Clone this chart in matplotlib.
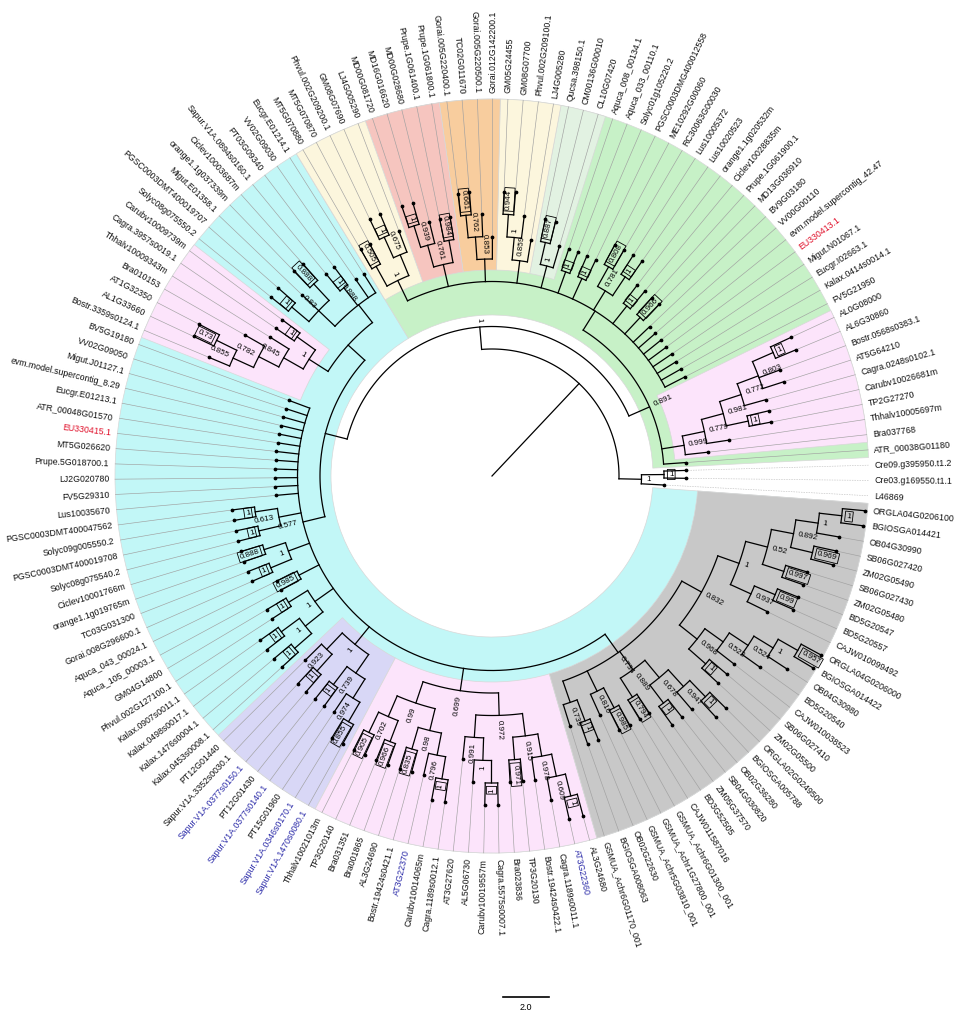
import numpy as np
import matplotlib.pyplot as plt
from matplotlib.patches import Wedge

plt.rcParams['font.family'] = ['Liberation Sans', 'DejaVu Sans']

# tree: (support, [children]); leaves are names; children listed counter-clockwise
outgroup = ("1", ["L46869", ("1", ["Cre03.g169550.t1.1", "Cre09.g395950.t1.2"])])

pink_right = ("0.999", ["Bra037768", ("0.779", ["Thhalv10005697m", ("0.981", [
    ("1", ["TP2G27270", "Carubv10026681m"]),
    ("0.772", ["Cagra.0248s0102.1", ("0.803", ["AT5G64210", "Bostr.0568s0383.1",
                                               ("1", ["AL6G30860", "AL0G08000"])])])])])])

pale = ("1", ["CL10G07420", ("0.887", ["CM00136G00010", "Qucsa.398150.1"])])
cream2 = ("0.859", ["LJ4G005280", ("1", ["Phvul.002G209100.1", ("0.944", ["GM08G07700", "GM05G24455"])])])
orange = ("0.853", ["Gorai.012G142200.1", ("0.762", ["Gorai.005G220500.1",
                                                    ("0.661", ["TC02G011670", "Gorai.005G220400.1"])])])
red = ("0.761", [("0.984", ["Prupe.1G061800.1", "Prupe.1G061400.1"]),
                 ("0.939", ["MD00G028680", ("1", ["MD16G016620", "MD00G081720"])])])
cream1 = ("1", [("0.675", ["LJ4G005290", ("1", ["GM08G07690", "Phvul.002G209200.1"])]),
                ("0.505", ["MT5G070870", "MT5G070880"])])

green_rest = ("", ["FV5G21950", "Kalax.0414s0014.1", "Eucgr.I02663.1", "Migut.N01067.1", "EU330413.1",
                   "evm.model.supercontig_42.47", "VV00G00110", "BV9G03180",
                   ("0.966", ["MD13G036910", "Prupe.1G061900.1"]),
                   ("1", ["Ciclev10028835m", "orange1.1g020532m"]),
                   ("0.781", [("1", ["Lus10020523", "Lus10005372"]), ("0.808", ["RC30063G00030", "ME10292G00060"])]),
                   ("1", ["PGSC0003DMG400012558", "Solyc01g105220.2"]),
                   ("1", ["Aquca_033_00110.1", "Aquca_008_00134.1"]),
                   pale, cream2, orange, red, cream1])
green = ("0.891", ["ATR_00038G01180", pink_right, green_rest])

upper_cyan = ("0.888", ["Eucgr.E01214.1", "VV02G09030", ("1", ["PT03G09340", "Sapur.V1A.0894s0160.1"]),
                        ("0.83", [("0.888", ["Ciclev10003687m", "orange1.1g037339m"]), "Migut.E01358.1",
                                  ("1", ["PGSC0003DMT400019707", "Solyc08g075550.2"])])])
pink_left = ("1", [("1", ["Carubv10009739m", "Cagra.3957s0019.1"]),
                   ("0.845", ["Thhalv10009343m", ("0.782", ["Bra010153", ("0.855", [
                       ("0.73", ["AT1G32350", "AL1G33660"]), "Bostr.3359s0124.1"])])])])

lavender = ("1", [("0.923", ["PT12G01440", ("1", ["Sapur.V1A.3352s0030.1", "Sapur.V1A.0377s0150.1"])]),
                  ("0.739", [("1", ["PT12G01430", "Sapur.V1A.0377s0140.1"]),
                             ("0.974", ["PT15G01960", ("0.855", ["Sapur.V1A.0346s0170.1", "Sapur.V1A.1470s0080.1"])])])])

pink_bottom = ("0.699", [
    ("0.99", [("0.702", [("0.905", ["Thhalv10021013m", "TP3G20140"]), ("0.966", ["Bra031351", "Bra001865"])]),
              ("0.98", [("0.835", ["AL3G24690", "Bostr.19424s0421.1"]),
                        ("0.796", ["AT3G22370", ("1", ["Carubv10014065m", "Cagra.1189s0012.1"])])])]),
    ("0.972", [("0.991", ["AT3G27620", ("1", ["AL5G06730", ("1", ["Carubv10019557m", "Cagra.5575s0007.1"])])]),
               ("0.915", [("0.971", ["Bra023836", "TP3G20130"]),
                          ("0.978", ["Bostr.19424s0422.1", ("0.609", ["Cagra.1189s0011.1",
                                                                      ("1", ["AT3G22360", "AL3G24680"])])])])])])

gray = ("0.734", [
    ("0.739", ["GSMUA_Achr6G01170_001", ("1", ["BGIOSGA008063", "OB02G22630"])]),
    ("0.816", ["GSMUA_Achr5G03810_001", ("0.985", ["GSMUA_Achr1G27800_001", "GSMUA_Achr6G01300_001"])]),
    ("0.889", [("0.794", ["CAJW011587016", "BD3G52505"]),
               ("0.678", [("1", ["ZM05G37570", "SB04G030820"]),
                          ("0.947", ["OB02G36280", ("1", ["BGIOSGA005788", "ORGLA02G0249500"])])])]),
    ("0.832", [
        ("0.968", [("1", ["ZM02G05500", "SB06G027410"]),
                   ("0.522", ["CAJW010038523", ("0.524", ["BD5G20540", ("1", ["OB04G30980",
                                                        ("0.957", ["BGIOSGA014422", "ORGLA04G0206000"])])])])]),
        ("1", [("0.937", ["CAJW010099492", ("0.99", ["BD5G20557", "BD5G20547"])]),
               ("0.52", [("0.997", ["ZM02G05480", "SB06G027430"]),
                         ("0.892", [("0.969", ["ZM02G05490", "SB06G027420"]),
                                    ("1", ["OB04G30990", ("1", ["BGIOSGA014421", "ORGLA04G0206100"])])])])])])])

cyan_rest = ("0.577", ["BV5G19180", "VV02G09050", "Migut.J01127.1", "evm.model.supercontig_8.29",
                       "Eucgr.E01213.1", "ATR_00048G01570", "EU330415.1", "MT5G026620", "Prupe.5G018700.1",
                       "LJ2G020780", "FV5G29310", "Lus10035670",
                       ("0.613", [("1", ["PGSC0003DMT400047562", "Solyc09g005550.2"]),
                                  ("1", ["PGSC0003DMT400019708", "Solyc08g075540.2"])]),
                       ("1", [("0.888", ["Ciclev10001766m", "orange1.1g019765m"]),
                              ("1", ["TC03G031300", "Gorai.008G296600.1"])]),
                       ("0.985", ["Aquca_043_00024.1", "Aquca_105_00003.1"]),
                       ("1", [("1", ["GM04G14800", "Phvul.002G127100.1"]),
                              ("1", [("1", ["Kalax.0907s0011.1", "Kalax.0498s0017.1"]),
                                     ("1", ["Kalax.1476s0004.1", "Kalax.0453s0008.1"])])]),
                       lavender, pink_bottom, gray])
cyan = ("", [("", [upper_cyan, pink_left]), cyan_rest])

ingroup = ("1", [green, cyan])
tree = ("", [outgroup, ingroup])

red_names = ["EU330413.1", "EU330415.1"]
blue_names = ["Sapur.V1A.0377s0150.1", "Sapur.V1A.0377s0140.1", "Sapur.V1A.0346s0170.1",
              "Sapur.V1A.1470s0080.1", "AT3G22370", "AT3G22360"]

regions = [(cyan, "#c2f7f7"), (green, "#c7f1c7"), (pink_right, "#fce4fb"), (pale, "#e2f2e2"),
           (cream2, "#fcf6dd"), (orange, "#f8cd9e"), (red, "#f6c5bf"), (cream1, "#fcf6dd"),
           (pink_left, "#fce4fb"), (lavender, "#d8d7f6"), (pink_bottom, "#fce4fb"), (gray, "#c8c8c8")]

# ---- layout
CX, CY = 492, 1015 - 476
R0, STEP = 127, 22.5
R_OUT, R_LAB = 377, 383
A0 = -3.0


def count(n):
    return 1 if isinstance(n, str) else sum(count(c) for c in n[1])


DA = 360.0 / count(tree)
leaves = []
nodes = {}


def xy(r, a):
    t = np.radians(a)
    return CX + r * np.cos(t), CY + r * np.sin(t)


def layout(n, d):
    if isinstance(n, str):
        a = A0 + len(leaves) * DA
        leaves.append((n, a, d))
        return a, d
    res = [layout(c, d + 1) for c in n[1]]
    a = np.mean([r[0] for r in res])
    nodes[id(n)] = (a, d, res, n)
    return a, d


layout(tree, 0)
leaf_idx = {name: i for i, (name, a, d) in enumerate(leaves)}


def span(n):
    if isinstance(n, str):
        return [leaf_idx[n]]
    return [i for c in n[1] for i in span(c)]


fig = plt.figure(figsize=(9.64, 10.15), dpi=100)
ax = fig.add_axes([0, 0, 1, 1])
ax.set_xlim(0, 964)
ax.set_ylim(0, 1015)
ax.axis("off")

# coloured clade backgrounds
for clade, col in regions:
    idx = span(clade)
    a1 = A0 + min(idx) * DA - DA / 2
    a2 = A0 + max(idx) * DA + DA / 2
    r_in = R0 + nodes[id(clade)][1] * STEP - 11
    ax.add_patch(Wedge((CX, CY), R_OUT, a1, a2, width=R_OUT - r_in, fc=col,
                       ec="#d8d8d8", lw=0.5, zorder=1))


def rot(a):
    a = a % 360
    if 90 < a <= 270:
        return a - 180, "right"
    return (a if a <= 90 else a - 360), "left"


# branches
root_a = nodes[id(tree)][0]
ax.plot(*zip(xy(0, root_a), xy(R0, root_a)), color="k", lw=0.9, zorder=3)
for key, (a, d, res, n) in nodes.items():
    rn = R0 + d * STEP
    angs = [r[0] for r in res]
    t = np.linspace(min(angs), max(angs), 80)
    ax.plot(*xy(rn, t), color="k", lw=0.9, zorder=3)
    for ac, dc in res:
        rc = R0 + dc * STEP
        ax.plot(*zip(xy(rn, ac), xy(rc, ac)), color="k", lw=0.9, zorder=3)
    if n[0]:
        r_, ha = rot(a)
        cherry = all(isinstance(c, str) for c in n[1])
        box = dict(boxstyle="square,pad=0.2", fc="none", ec="k", lw=0.6) if cherry else None
        ax.text(*xy(rn + 5, a), n[0], fontsize=5.8, rotation=r_, ha=ha, va="center",
                rotation_mode="anchor", bbox=box, zorder=4)

# leaf tips, connectors and names
for name, a, d in leaves:
    rl = R0 + d * STEP
    ls = ":" if name in ("L46869", "Cre03.g169550.t1.1", "Cre09.g395950.t1.2") else "-"
    ax.plot(*zip(xy(rl, a), xy(R_OUT, a)), color="#a0a0a0", lw=0.45, ls=ls, zorder=2)
    ax.plot(*xy(rl, a), "o", color="k", ms=1.7, zorder=4)
    col = "#e0102a" if name in red_names else ("#2a2aa8" if name in blue_names else "#111111")
    r_, ha = rot(a)
    ax.text(*xy(R_LAB, a), name, fontsize=6.3, color=col, rotation=r_, ha=ha, va="center",
            rotation_mode="anchor", zorder=4)

# scale bar
ax.plot([503, 549], [18, 18], color="k", lw=1.2)
ax.text(526, 7, "2.0", fontsize=6.5, ha="center", va="center")

fig.savefig("out.png", dpi=100)
